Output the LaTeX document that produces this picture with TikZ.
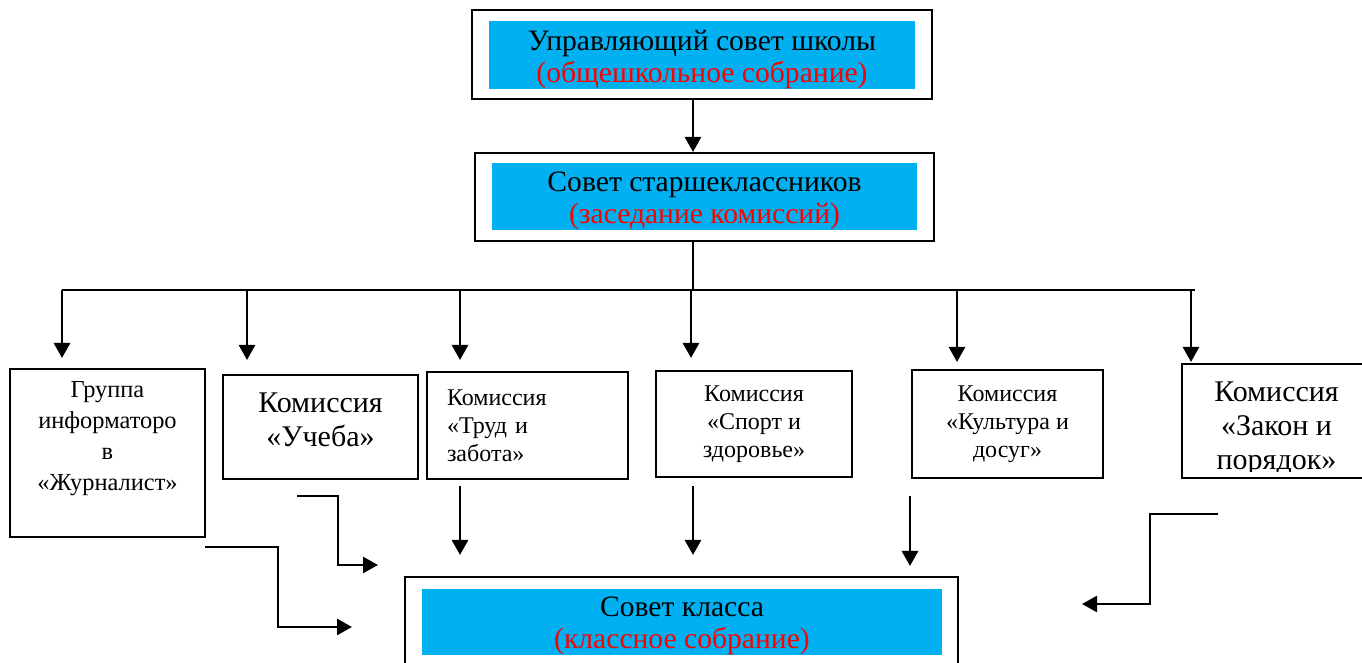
\documentclass[tikz,border=0pt]{standalone}
\usepackage{fontspec}
\setmainfont{Liberation Serif}
\usetikzlibrary{arrows.meta}
\definecolor{boxblue}{HTML}{00B0F0}
\definecolor{boxred}{HTML}{FF0000}
\tikzset{
  frame/.style={draw, line width=1pt, inner sep=0pt},
  fillbox/.style={fill=boxblue, inner sep=0pt},
  filltext/.style={align=center, inner sep=0pt, font=\fontsize{14.8}{16}\selectfont},
  kbox/.style={draw, line width=1pt, inner sep=0pt, align=center, font=\fontsize{12}{14}\selectfont},
  arr/.style={line width=1.3pt, -{Triangle[length=7.5pt,width=8pt]}},
  line/.style={line width=1.3pt}
}

\begin{document}
\begin{tikzpicture}[x=0.5pt,y=-0.5pt]
\useasboundingbox (0,0) rectangle (1362,663);
\clip (0,0) rectangle (1362,663);

\node[frame, minimum width=230pt, minimum height=44.5pt] (usc) at (702,54.5) {};
\node[fillbox, minimum width=213pt, minimum height=34pt] (usci) at (702,55) {};
\node[filltext] (usct) at ([yshift=-2.5pt]usci.center) {Управляющий совет школы\\\textcolor{boxred}{(общешкольное собрание)}};

\node[frame, minimum width=229.5pt, minimum height=44pt] (sst) at (704.5,197) {};
\node[fillbox, minimum width=212.5pt, minimum height=33.5pt] (ssti) at (704.5,196.5) {};
\node[filltext] (sstt) at ([yshift=-2pt]ssti.center) {Совет старшеклассников\\\textcolor{boxred}{(заседание комиссий)}};

\coordinate (bus) at (693,290);
\coordinate (busL) at (62,290);
\coordinate (busR) at (1195,290);
\draw[arr] (usc.south -| bus) -- (sst.north -| bus);
\draw[line] (sst.south -| bus) -- (bus);
\draw[line] (busL) -- (busR);

\foreach \n/\x/\y in {1/62/358, 2/247/360, 3/460/360, 4/691/358, 5/957/362, 6/1191/362}{
  \coordinate (drop\n) at (\x,\y);
  \draw[arr] (drop\n |- bus) -- (drop\n);
}

\node[kbox, minimum width=97.5pt, minimum height=84pt] (grp) at (107.5,453) {};
\node[align=center, font=\fontsize{12.2}{15.5}\selectfont] (grpt) at ([yshift=7pt]grp.center) {Группа\\информаторо\\в\\«Журналист»};
\node[kbox, minimum width=97.5pt, minimum height=52pt] (ucheba) at (320.5,427) {};
\node[align=center, font=\fontsize{15}{17}\selectfont] (uchebat) at ([yshift=3.5pt]ucheba.center) {Комиссия\\«Учеба»};
\node[kbox, align=left, text width=80.5pt, inner xsep=10pt, minimum height=53.5pt] (trud) at (527.5,425.5) {Комиссия\\«Труд и\\забота»};
\node[kbox, minimum width=98pt, minimum height=53pt] (sport) at (754,424) {Комиссия\\«Спорт и\\здоровье»};
\node[kbox, minimum width=95.5pt, minimum height=54pt] (kult) at (1007.5,424) {Комиссия\\«Культура и\\досуг»};
\node[kbox, minimum width=94.5pt, minimum height=57pt] (zakon) at (1276.5,421) {};
\begin{scope}
\clip (zakon.north west) rectangle ([yshift=3.5pt]zakon.south east);
\node[align=center, font=\fontsize{15}{17}\selectfont] (zakont) at ([yshift=-4pt]zakon.center) {Комиссия\\«Закон и\\порядок»};
\end{scope}

\node[frame, minimum width=276.5pt, minimum height=51.5pt] (sk) at (681.5,628.5) {};
\node[fillbox, minimum width=260pt, minimum height=33pt] (ski) at (682,622) {};
\node[filltext] (skt) at ([yshift=-2pt]ski.center) {Совет класса\\\textcolor{boxred}{(классное собрание)}};

\coordinate (grpA) at (205,547);
\coordinate (grpB) at (352,627);
\draw[arr] (grpA) -- ++(73,0) |- (grpB);
\coordinate (uchA) at (297,496);
\coordinate (uchB) at (378,565);
\draw[arr] (uchA) -- ++(41,0) |- (uchB);
\coordinate (trudA) at (460,486);
\coordinate (trudB) at (460,555);
\draw[arr] (trudA) -- (trudB);
\coordinate (sportA) at (693,486);
\coordinate (sportB) at (693,555);
\draw[arr] (sportA) -- (sportB);
\coordinate (kultA) at (910,496);
\coordinate (kultB) at (910,566);
\draw[arr] (kultA) -- (kultB);
\coordinate (zakA) at (1218,514);
\coordinate (zakB) at (1082,604);
\draw[arr] (zakA) -- ++(-68,0) |- (zakB);

\end{tikzpicture}
\end{document}
